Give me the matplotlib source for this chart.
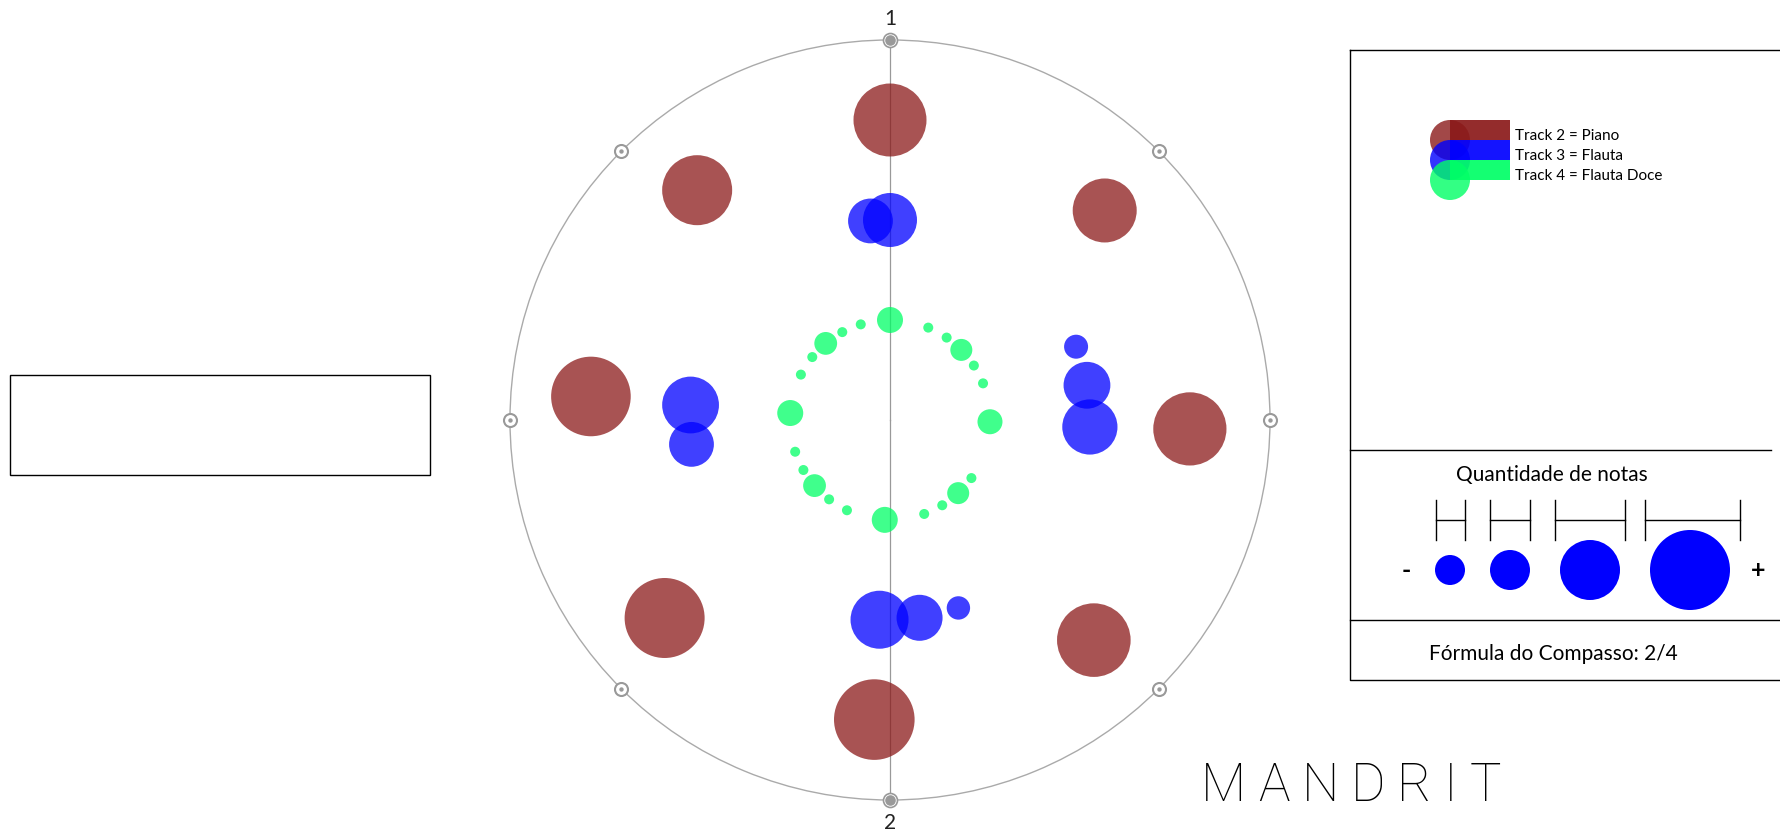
"""Radial note map of one bar (2/4) for three tracks, with legend panel."""
import matplotlib

matplotlib.use("Agg")
import matplotlib.pyplot as plt  # noqa: E402
import numpy as np  # noqa: E402
from matplotlib.patches import Circle, Rectangle  # noqa: E402

W, H, DPI = 1780, 840, 100

# note positions: angle in degrees clockwise from beat "1", size = marker radius (px)
piano_angle = [0, -40, 45.7, 91.7, -85.5, -131.3, 137.2, 183]
piano_size = [36.5, 35, 32, 36.6, 39.8, 40, 36.8, 40.3]

flauta_angle = [0, -5.6, 68.5, 80, 92, -85.7, -97, 183, 171.5, 160]
flauta_size = [27, 22.4, 12, 23.4, 27.6, 28.4, 22.4, 29, 23, 11.7]

doce_angle = [0, -17, -28.5, -40, -51, -63, -86, -108.5, -120, -131, -142.5, -154.5,
              183, 160, 148.5, 137, 125.5, 91, 68.5, 57, 45.5, 34.5, 22.5]
doce_size = [13, 5, 5, 11.4, 5, 5, 13, 5, 5, 11.4, 5, 5,
             13, 5, 5, 11, 5, 12.5, 5, 5, 11, 5, 5]

track_names = ["Track 2 = Piano", "Track 3 = Flauta", "Track 4 = Flauta Doce"]
track_colors = ["#8b1a1a", "#0000ff", "#00ff66"]
track_ring = [3, 2, 1]
track_angles = [piano_angle, flauta_angle, doce_angle]
track_sizes = [piano_size, flauta_size, doce_size]

beat_labels = ["1", "2"]
n_ticks = 8
size_legend = [15, 20, 30, 40]
size_brackets = [(1436, 1465), (1490, 1530), (1555, 1625), (1645, 1740)]
size_title = "Quantidade de notas"
meter_text = "Fórmula do Compasso: 2/4"
title = "MANDRIT"

FONT = ["Lato", "DejaVu Sans"]
TITLE_FONT = ["Roboto", "Lato", "DejaVu Sans"]
R_MAX = 3.8
CX, CY, RPX = 890, 420, 380


def px_to_s(r):
    return (2 * r * 72 / DPI) ** 2


fig = plt.figure(figsize=(W / DPI, H / DPI), dpi=DPI)
deco = fig.add_axes([0, 0, 1, 1])
deco.set_xlim(0, W)
deco.set_ylim(H, 0)
deco.axis("off")

pax = fig.add_axes([(CX - RPX) / W, (H - CY - RPX) / H, 2 * RPX / W, 2 * RPX / H],
                   projection="polar")
pax.set_theta_zero_location("N")
pax.set_theta_direction(-1)
pax.set_ylim(0, R_MAX)
pax.grid(False)
pax.set_xticks([])
pax.set_yticks([])
pax.patch.set_alpha(0)
pax.spines["polar"].set_color("#aaaaaa")
pax.spines["polar"].set_linewidth(1.0)

# axis through beats 1 and 2
pax.plot([0, 0], [0, R_MAX], color="#999999", lw=0.9, zorder=1, clip_on=False)
pax.plot([np.pi, np.pi], [0, R_MAX], color="#999999", lw=0.9, zorder=1, clip_on=False)

# beat ticks on the rim
theta_ticks = np.arange(n_ticks) * 2 * np.pi / n_ticks
main = theta_ticks[[0, n_ticks // 2]]
minor = np.delete(theta_ticks, [0, n_ticks // 2])
pax.scatter(minor, np.full(len(minor), R_MAX), s=px_to_s(6.5), facecolor="white",
            edgecolor="#999999", linewidths=1.5, zorder=5, clip_on=False)
pax.scatter(minor, np.full(len(minor), R_MAX), s=px_to_s(2.2), color="#999999",
            linewidths=0, zorder=6, clip_on=False)
pax.scatter(main, np.full(len(main), R_MAX), s=px_to_s(7), facecolor="white",
            edgecolor="#999999", linewidths=1.2, zorder=5, clip_on=False)
pax.scatter(main, np.full(len(main), R_MAX), s=px_to_s(5.3), color="#999999",
            linewidths=0, zorder=6, clip_on=False)
for th, lab, dy, va in zip(main, beat_labels, [11, -13], ["bottom", "top"]):
    pax.annotate(lab, xy=(th, R_MAX), xytext=(0, dy), textcoords="offset pixels",
                 ha="center", va=va, fontsize=15, family=FONT, color="#222222",
                 annotation_clip=False)

# notes
for ang, sz, ring, col in zip(track_angles, track_sizes, track_ring, track_colors):
    th = np.deg2rad(ang)
    pax.scatter(th, np.full(len(th), ring), s=[px_to_s(v) for v in sz],
                color=col, alpha=0.75, linewidths=0, zorder=3)

# empty info box on the left
deco.add_patch(Rectangle((10, 375), 420, 100, fill=False, ec="black", lw=1.0))

# legend panel
deco.plot([1350, W + 5, W + 5, 1350, 1350], [50, 50, 680, 680, 50], color="black",
          lw=1.0, clip_on=False)
deco.plot([1350, 1771], [450, 450], color="black", lw=1.0)
deco.plot([1350, W], [620, 620], color="black", lw=1.0)

for i, (name, col) in enumerate(zip(track_names, track_colors)):
    top = 120 + 20 * i
    deco.add_patch(Circle((1450, top + 20), 20, color=col, alpha=0.8, lw=0))
    deco.add_patch(Rectangle((1450, top), 60, 20, color=col, alpha=0.92, lw=0))
    deco.text(1515, top + 20.5, name, ha="left", va="baseline", fontsize=11,
              family=FONT, color="black")

deco.text(1552, 481, size_title, ha="center", va="baseline", fontsize=15,
          family=FONT, color="black")
for (x0, x1), r in zip(size_brackets, size_legend):
    deco.plot([x0, x0], [500, 540], color="black", lw=1.0)
    deco.plot([x1, x1], [500, 540], color="black", lw=1.0)
    deco.plot([x0, x1], [520, 520], color="black", lw=1.0)
xs = [1450, 1510, 1590, 1690]
for x, r in zip(xs, size_legend):
    deco.add_patch(Circle((x, 570), r, color="#0000ff", lw=0))
deco.text(1406, 571, "-", ha="center", va="center", fontsize=18, fontweight="bold",
          family=FONT)
deco.text(1758, 571, "+", ha="center", va="center", fontsize=18, fontweight="bold",
          family=FONT)
deco.text(1553, 660.5, meter_text, ha="center", va="baseline", fontsize=15,
          family=FONT, color="black")

# spaced title
renderer = fig.canvas.get_renderer()
x = 1201
for ch in title:
    t = deco.text(x, 800.7, ch, ha="left", va="baseline", fontsize=38,
                  fontweight="light", family=TITLE_FONT, color="black")
    x += t.get_window_extent(renderer).width + 12

fig.savefig("out.png", dpi=DPI)
